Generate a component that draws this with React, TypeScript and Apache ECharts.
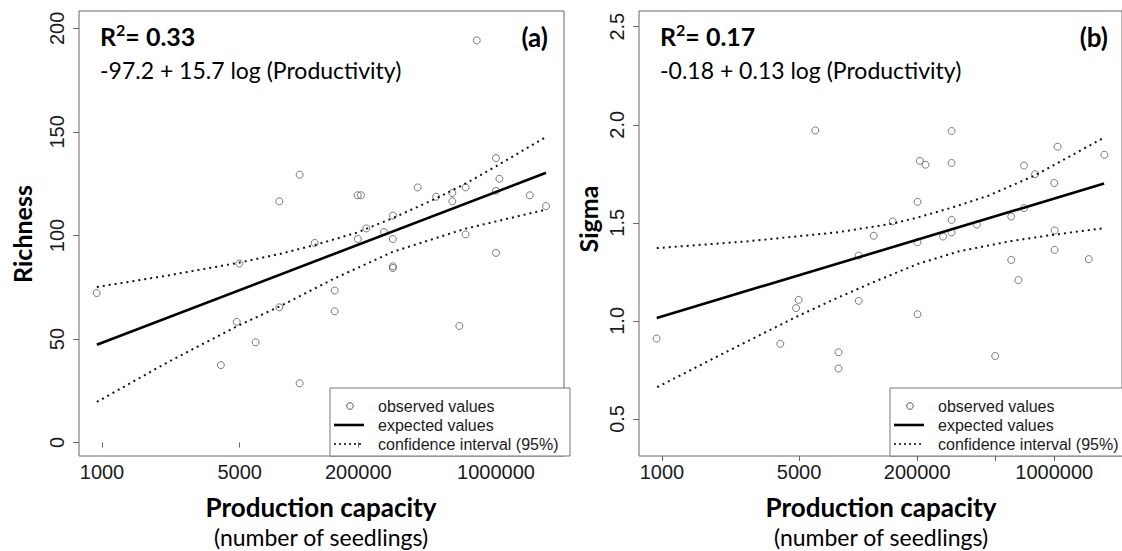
import React, { useEffect, useRef } from "react";
import * as echarts from "echarts";

// ---- x axis: ln(production capacity) ----
const xTickCapacity = [10000, 50000, 200000, 500000, 1000000];
const xTickLabels = ["1000", "5000", "200000", "", "1000000"];
const xMin = 8.9415;
const xMax = 14.61;

// ---- panel (a): Richness ----
const richnessX = [9.148, 10.6, 10.785, 10.815, 11.006, 11.283, 11.283, 11.52, 11.52, 11.696, 11.93, 11.93, 12.198, 12.2, 12.237, 12.3, 12.506, 12.61, 12.61, 12.61, 12.61, 12.9, 13.115, 13.305, 13.305, 13.387, 13.46, 13.46, 13.59, 13.815, 13.815, 13.815, 13.855, 14.21, 14.4];
const richnessY = [72.2, 37.4, 58.3, 86.4, 48.4, 65.3, 116.5, 129.3, 28.6, 96.4, 73.4, 63.4, 119.4, 98.3, 119.4, 103.4, 101.7, 109.6, 98.3, 85.1, 84.3, 123.2, 118.7, 120.5, 116.5, 56.3, 123.2, 100.5, 194.2, 137.4, 121.6, 91.6, 127.4, 119.4, 114.2];
const richnessFitX = [9.15, 14.4];
const richnessFitY = [47.2, 130.3];
const richnessUpperX = [9.15, 9.97, 10.82, 11.28, 11.7, 12.2, 12.61, 13.12, 13.47, 13.82, 14.4];
const richnessUpperY = [75.1, 80.6, 86.9, 91.0, 95.4, 101.5, 108.4, 118.0, 125.3, 133.5, 147.6];
const richnessLowerX = [9.15, 9.97, 10.79, 11.28, 11.93, 12.61, 13.46, 14.4];
const richnessLowerY = [19.6, 38.6, 56.2, 65.6, 79.3, 92.1, 103.3, 112.5];
const richnessTicks = [0, 50, 100, 150, 200];

// ---- panel (b): Sigma ----
const sigmaX = [9.148, 10.6, 10.785, 10.815, 11.01, 11.283, 11.283, 11.52, 11.52, 11.696, 11.92, 12.21, 12.21, 12.21, 12.237, 12.304, 12.51, 12.61, 12.61, 12.61, 12.61, 12.907, 13.122, 13.31, 13.31, 13.394, 13.46, 13.46, 13.59, 13.815, 13.819, 13.819, 13.854, 14.22, 14.403];
const sigmaY = [0.91, 0.883, 1.065, 1.107, 1.971, 0.84, 0.757, 1.333, 1.102, 1.434, 1.507, 1.607, 1.401, 1.034, 1.816, 1.796, 1.43, 1.968, 1.805, 1.515, 1.451, 1.491, 0.821, 1.532, 1.311, 1.208, 1.792, 1.575, 1.748, 1.703, 1.461, 1.362, 1.888, 1.315, 1.847];
const sigmaFitX = [9.15, 14.4];
const sigmaFitY = [1.015, 1.7];
const sigmaUpperX = [9.15, 10.2, 11.28, 11.92, 12.21, 12.61, 13.04, 13.59, 14.41];
const sigmaUpperY = [1.371, 1.405, 1.452, 1.496, 1.527, 1.577, 1.638, 1.742, 1.937];
const sigmaLowerX = [9.155, 9.967, 10.785, 11.283, 11.696, 12.21, 12.7, 13.31, 13.82, 14.41];
const sigmaLowerY = [0.662, 0.842, 1.02, 1.12, 1.198, 1.29, 1.355, 1.407, 1.44, 1.473];
const sigmaTicks = [0.5, 1.0, 1.5, 2.0, 2.5];

const legendLabels = ["observed values", "expected values", "confidence interval (95%)"];

const zip = (xs: number[], ys: number[]) => xs.map((x, i) => [x, ys[i]]);

const AXIS_FONT = "'Liberation Sans', Arial, sans-serif";
const TITLE_FONT = "Lato, 'Open Sans', sans-serif";

export default function App() {
  const ref = useRef<HTMLDivElement>(null);

  useEffect(() => {
    if (!ref.current) return;
    const chart = echarts.init(ref.current, undefined, { renderer: "svg" });

    const xTickPos = xTickCapacity.map((v) => Math.log(v));
    const xLabelPos = xTickPos.filter((_, i) => xTickLabels[i] !== "");

    const xAxisFor = (gridIndex: number) => ({
      type: "value",
      gridIndex,
      min: xMin,
      max: xMax,
      axisLine: { show: false },
      splitLine: { show: false },
      axisTick: {
        show: true,
        customValues: xTickPos,
        length: 5,
        lineStyle: { color: "#666", width: 1 },
      },
      axisLabel: {
        customValues: xLabelPos,
        margin: 6,
        fontFamily: AXIS_FONT,
        fontSize: 20,
        color: "#1a1a1a",
        formatter: (v: number) => {
          const i = xTickPos.findIndex((p) => Math.abs(p - v) < 1e-6);
          return i >= 0 ? xTickLabels[i] : "";
        },
      },
    });

    const yAxisFor = (gridIndex: number, min: number, max: number, ticks: number[], fmt: (v: number) => string) => ({
      type: "value",
      gridIndex,
      min,
      max,
      axisLine: { show: false },
      splitLine: { show: false },
      axisTick: {
        show: true,
        customValues: ticks,
        length: 6,
        lineStyle: { color: "#666", width: 1 },
      },
      axisLabel: {
        customValues: ticks,
        rotate: 90,
        margin: 12,
        fontFamily: AXIS_FONT,
        fontSize: 20,
        color: "#1a1a1a",
        formatter: fmt,
      },
    });

    const scatter = (idx: number, xs: number[], ys: number[]) => ({
      type: "scatter",
      xAxisIndex: idx,
      yAxisIndex: idx,
      data: zip(xs, ys),
      symbol: "circle",
      symbolSize: 7,
      itemStyle: { color: "rgba(0,0,0,0)", borderColor: "#5a5a5a", borderWidth: 1 },
      z: 3,
    });
    const fit = (idx: number, xs: number[], ys: number[]) => ({
      type: "line",
      xAxisIndex: idx,
      yAxisIndex: idx,
      data: zip(xs, ys),
      showSymbol: false,
      lineStyle: { color: "#000", width: 2.6 },
      z: 4,
    });
    const band = (idx: number, xs: number[], ys: number[]) => ({
      type: "line",
      xAxisIndex: idx,
      yAxisIndex: idx,
      data: zip(xs, ys),
      showSymbol: false,
      smooth: false,
      lineStyle: { color: "#111", width: 2, type: [2, 4] },
      z: 4,
    });

    const legendFor = (ox: number) => ({
      type: "group",
      z: 100,
      children: [
        { type: "rect", shape: { x: ox + 330, y: 388, width: 240, height: 68 }, style: { fill: "#fff", stroke: "#777", lineWidth: 1 } },
        { type: "circle", shape: { cx: ox + 350, cy: 406, r: 3.3 }, style: { fill: "none", stroke: "#555", lineWidth: 1 } },
        { type: "line", shape: { x1: ox + 334, y1: 425, x2: ox + 364, y2: 425 }, style: { stroke: "#000", lineWidth: 2.6 } },
        { type: "line", shape: { x1: ox + 334, y1: 444, x2: ox + 364, y2: 444 }, style: { stroke: "#000", lineWidth: 1.3, lineDash: [2, 3] } },
        ...legendLabels.map((t, i) => ({
          type: "text",
          x: ox + 378,
          y: 406 + i * 19,
          style: { text: t, fontFamily: AXIS_FONT, fontSize: 16, lineHeight: 17, fill: "#1a1a1a", align: "left", verticalAlign: "middle" },
        })),
      ],
    });

    const annotFor = (ox: number, r2: string, eq: string, tag: string, yTitle: string, yTitleX: number, yTitleY: number) => [
      {
        type: "text",
        x: ox + 100,
        y: 21,
        style: {
          text: `{b|R}{s|2}{b|= ${r2}}`,
          rich: {
            b: { fontFamily: TITLE_FONT, fontWeight: "bold", fontSize: 25, lineHeight: 29, fill: "#000" },
            s: { fontFamily: TITLE_FONT, fontWeight: "bold", fontSize: 16, lineHeight: 16, verticalAlign: "top", fill: "#000" },
          },
          align: "left",
          verticalAlign: "top",
        },
      },
      {
        type: "text",
        x: ox + 100,
        y: 70,
        style: { text: eq, fontFamily: TITLE_FONT, fontSize: 23, lineHeight: 26, fill: "#000", align: "left", verticalAlign: "middle" },
      },
      {
        type: "text",
        x: ox + 548,
        y: 37,
        style: { text: tag, fontFamily: TITLE_FONT, fontWeight: "bold", fontSize: 26, lineHeight: 28, fill: "#000", align: "right", verticalAlign: "middle" },
      },
      {
        type: "text",
        x: yTitleX,
        y: yTitleY,
        rotation: Math.PI / 2,
        style: { text: yTitle, fontFamily: TITLE_FONT, fontWeight: "bold", fontSize: 25, lineHeight: 26, fill: "#000", align: "center", verticalAlign: "middle" },
      },
      {
        type: "text",
        x: ox + 321,
        y: 507,
        style: { text: "Production capacity", fontFamily: TITLE_FONT, fontWeight: "bold", fontSize: 26, lineHeight: 26, fill: "#000", align: "center", verticalAlign: "middle" },
      },
      {
        type: "text",
        x: ox + 321,
        y: 537,
        style: { text: "(number of seedlings)", fontFamily: TITLE_FONT, fontSize: 23, lineHeight: 23, fill: "#000", align: "center", verticalAlign: "middle" },
      },
    ];

    chart.setOption({
      animation: false,
      backgroundColor: "#fff",
      grid: [
        { left: 79, top: 11, width: 485, height: 445, show: true, borderColor: "#666", borderWidth: 1, backgroundColor: "transparent" },
        { left: 639, top: 11, width: 485, height: 445, show: true, borderColor: "#666", borderWidth: 1, backgroundColor: "transparent" },
      ],
      xAxis: [xAxisFor(0), xAxisFor(1)],
      yAxis: [
        yAxisFor(0, -6.5, 208.4, richnessTicks, (v: number) => String(v)),
        yAxisFor(1, 0.311, 2.58, sigmaTicks, (v: number) => v.toFixed(1)),
      ],
      series: [
        scatter(0, richnessX, richnessY),
        fit(0, richnessFitX, richnessFitY),
        band(0, richnessUpperX, richnessUpperY),
        band(0, richnessLowerX, richnessLowerY),
        scatter(1, sigmaX, sigmaY),
        fit(1, sigmaFitX, sigmaFitY),
        band(1, sigmaUpperX, sigmaUpperY),
        band(1, sigmaLowerX, sigmaLowerY),
      ],
      graphic: [
        legendFor(0),
        legendFor(560),
        ...annotFor(0, "0.33", "-97.2 + 15.7 log (Productivity)", "(a)", "Richness", 22, 234),
        ...annotFor(560, "0.17", "-0.18 + 0.13 log (Productivity)", "(b)", "Sigma", 588, 219),
      ],
    });

    return () => chart.dispose();
  }, []);

  return <div ref={ref} style={{ position: "fixed", left: 0, top: 0, width: 1122, height: 551 }} />;
}
